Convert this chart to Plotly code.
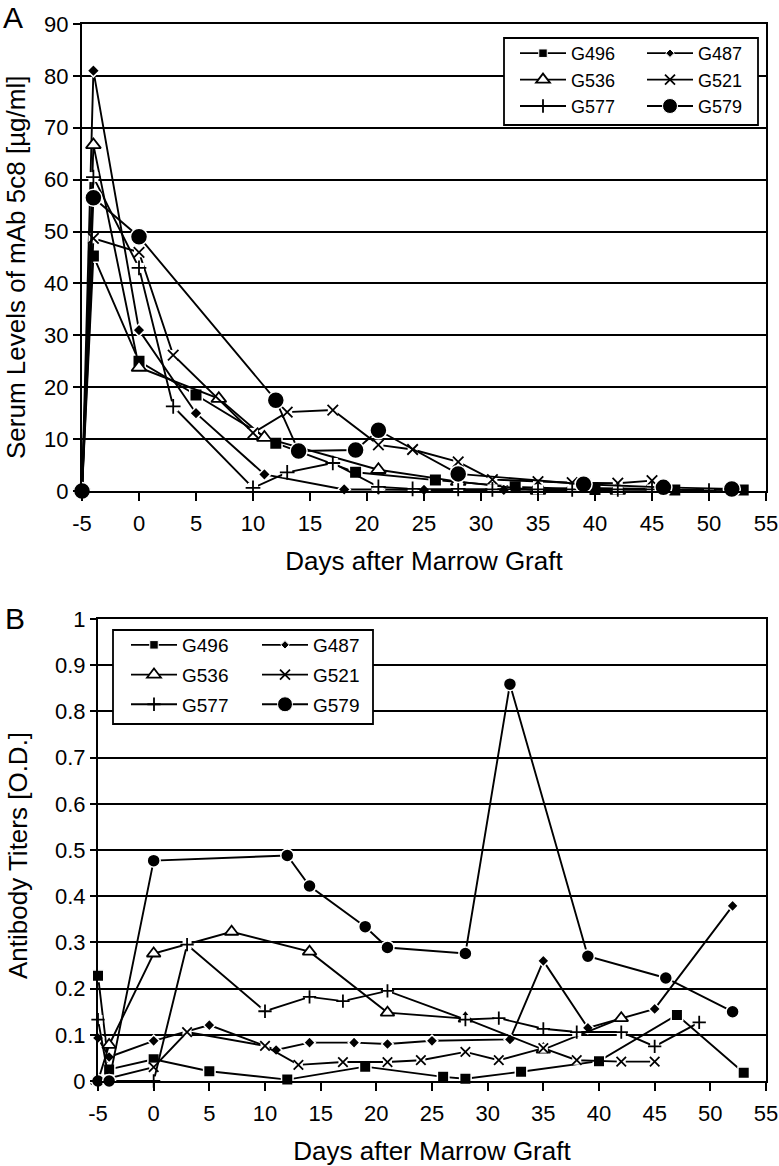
import plotly.graph_objects as go

# ---------------- Panel A data: serum levels of mAb 5c8 [µg/ml] ----------------
a_g496_days = [-5, -4, 0, 5, 12, 19, 26, 33, 40, 47, 53]
a_g496_vals = [0, 45.3, 25.0, 18.5, 9.2, 3.6, 2.1, 0.8, 0.3, 0.2, 0.2]
a_g487_days = [-5, -4, 0, 5, 11, 18, 21, 25, 32, 35, 39, 45]
a_g487_vals = [0, 81.0, 31.0, 15.0, 3.2, 0.3, 0.3, 0.2, 0.2, 0.3, 0.6, 0.4]
a_g536_days = [-5, -4, 0, 7, 11, 21, 28, 35, 42]
a_g536_vals = [0, 66.7, 23.8, 17.8, 10.3, 4.1, 1.8, 0.1, 0.1]
a_g521_days = [-5, -4, 0, 3, 10, 13, 17, 21, 24, 28, 31, 35, 38, 42, 45]
a_g521_vals = [0, 48.7, 46.0, 26.2, 11.2, 15.2, 15.6, 8.9, 8.0, 5.6, 2.2, 1.8, 1.6, 1.5, 2.0]
a_g577_days = [-5, -4, 0, 3, 10, 13, 17, 21, 24, 28, 31, 35, 38, 42, 45, 50]
a_g577_vals = [0, 60.5, 43.0, 16.3, 0.6, 3.6, 5.4, 0.8, 0.4, 0.4, 0.3, 0.3, 0.3, 0.3, 0.3, 0.1]
a_g579_days = [-5, -4, 0, 12, 14, 19, 21, 28, 39, 46, 52]
a_g579_vals = [0, 56.5, 49.0, 17.5, 7.7, 7.9, 11.7, 3.3, 1.3, 0.7, 0.4]

# ---------------- Panel B data: antibody titers [O.D.] ----------------
b_g496_days = [-5, -4, 0, 5, 12, 19, 26, 28, 33, 40, 47, 53]
b_g496_vals = [0.228, 0.025, 0.047, 0.021, 0.003, 0.031, 0.009, 0.005, 0.020, 0.043, 0.143, 0.018]
b_g487_days = [-5, -4, 0, 5, 11, 14, 18, 21, 25, 32, 35, 39, 45, 52]
b_g487_vals = [0.093, 0.052, 0.087, 0.121, 0.067, 0.083, 0.083, 0.080, 0.087, 0.090, 0.260, 0.115, 0.156, 0.379]
b_g536_days = [-5, -4, 0, 7, 14, 21, 28, 35, 42]
b_g536_vals = [0.0, 0.078, 0.276, 0.323, 0.280, 0.148, 0.135, 0.068, 0.136]
b_g521_days = [-5, 0, 3, 10, 13, 17, 21, 24, 28, 31, 35, 38, 42, 45]
b_g521_vals = [0.0, 0.030, 0.106, 0.076, 0.035, 0.041, 0.041, 0.045, 0.063, 0.045, 0.071, 0.045, 0.042, 0.042]
b_g577_days = [-5, -4, 0, 3, 10, 14, 17, 21, 28, 31, 35, 38, 42, 45, 49]
b_g577_vals = [0.133, 0.0, 0.0, 0.295, 0.151, 0.182, 0.173, 0.195, 0.133, 0.136, 0.113, 0.106, 0.106, 0.075, 0.127]
b_g579_days = [-5, -4, 0, 12, 14, 19, 21, 28, 32, 39, 46, 52]
b_g579_vals = [0.0, 0.0, 0.477, 0.488, 0.422, 0.334, 0.289, 0.276, 0.859, 0.270, 0.223, 0.150]

series_names = ["G496", "G487", "G536", "G521", "G577", "G579"]
x_ticks = [-5, 0, 5, 10, 15, 20, 25, 30, 35, 40, 45, 50, 55]
x_tick_text = ["-5", "0", "5", "10", "15", "20", "25", "30", "35", "40", "45", "50", "55"]
a_y_ticks = [0, 10, 20, 30, 40, 50, 60, 70, 80, 90]
b_y_ticks = [0, 0.1, 0.2, 0.3, 0.4, 0.5, 0.6, 0.7, 0.8, 0.9, 1]
b_y_tick_text = ["0", "0.1", "0.2", "0.3", "0.4", "0.5", "0.6", "0.7", "0.8", "0.9", "1"]

panel_a = {
    "G496": (a_g496_days, a_g496_vals), "G487": (a_g487_days, a_g487_vals),
    "G536": (a_g536_days, a_g536_vals), "G521": (a_g521_days, a_g521_vals),
    "G577": (a_g577_days, a_g577_vals), "G579": (a_g579_days, a_g579_vals),
}
panel_b = {
    "G496": (b_g496_days, b_g496_vals), "G487": (b_g487_days, b_g487_vals),
    "G536": (b_g536_days, b_g536_vals), "G521": (b_g521_days, b_g521_vals),
    "G577": (b_g577_days, b_g577_vals), "G579": (b_g579_days, b_g579_vals),
}

W, H = 779, 1166
FONT = "Liberation Sans, Arial, sans-serif"
BLACK = "#000000"

def px_x(p):
    return p / W

def px_y(p):
    return 1 - p / H

styles = {
    "G496": dict(symbol="square", a=12.5, b=11.5, leg=8.5, kind="filled"),
    "G487": dict(symbol="diamond", a=9.5, b=9, leg=6.5, kind="filled"),
    "G536": dict(symbol="triangle-up", a=13, b=12, leg=12, kind="open"),
    "G521": dict(symbol="x-thin", a=10.5, b=9.5, leg=10, kind="thin"),
    "G577": dict(symbol="cross-thin", a=10.5, b=9.5, leg=9.5, kind="thin"),
    "G579": dict(symbol="circle", a=17, b=13, leg=15, kind="filled"),
}

fig = go.Figure()

def add_series(name, days, vals, xa, ya, size):
    st = styles[name]
    fig.add_trace(go.Scatter(x=days, y=vals, mode="lines", xaxis=xa, yaxis=ya,
                             line=dict(color=BLACK, width=1.9), showlegend=False,
                             hoverinfo="skip", cliponaxis=False))
    if st["kind"] == "thin":
        fig.add_trace(go.Scatter(x=days, y=vals, mode="markers", xaxis=xa, yaxis=ya,
                                 marker=dict(symbol="square", size=size * 0.95, color="white",
                                             line=dict(width=0)),
                                 showlegend=False, hoverinfo="skip", cliponaxis=False))
        marker = dict(symbol=st["symbol"], size=size, color=BLACK,
                      line=dict(color=BLACK, width=1.8))
    elif st["kind"] == "open":
        marker = dict(symbol=st["symbol"], size=size, color="white",
                      line=dict(color=BLACK, width=1.8))
    else:
        marker = dict(symbol=st["symbol"], size=size, color=BLACK,
                      line=dict(color="white", width=1.5))
    fig.add_trace(go.Scatter(x=days, y=vals, mode="markers", xaxis=xa, yaxis=ya,
                             marker=marker, showlegend=False, name=name,
                             cliponaxis=False))

for nm in series_names:
    d, v = panel_a[nm]
    add_series(nm, d, v, "x", "y", styles[nm]["a"])
for nm in series_names:
    d, v = panel_b[nm]
    add_series(nm, d, v, "x2", "y2", styles[nm]["b"])

legend_cols = {"G496": 0, "G536": 0, "G577": 0, "G487": 1, "G521": 1, "G579": 1}
for panel, (lc1, lc2, xa, ya) in {"A": ("legend", "legend2", "x", "y"),
                                  "B": ("legend3", "legend4", "x2", "y2")}.items():
    for nm in ["G496", "G536", "G577", "G487", "G521", "G579"]:
        st = styles[nm]
        if st["kind"] == "open":
            mk = dict(symbol=st["symbol"], size=st["leg"], color="white",
                      line=dict(color=BLACK, width=1.8))
        elif st["kind"] == "thin":
            mk = dict(symbol=st["symbol"], size=st["leg"], color=BLACK,
                      line=dict(color=BLACK, width=1.8))
        else:
            mk = dict(symbol=st["symbol"], size=st["leg"], color=BLACK,
                      line=dict(color="white", width=1))
        fig.add_trace(go.Scatter(x=[None], y=[None], mode="lines+markers", name=nm,
                                 xaxis=xa, yaxis=ya, line=dict(color=BLACK, width=1.8),
                                 marker=mk, legend=lc1 if legend_cols[nm] == 0 else lc2,
                                 legendgroup=panel + nm, showlegend=True))

axis_common = dict(showline=True, linecolor=BLACK, linewidth=2, mirror=True,
                   ticks="outside", tickcolor=BLACK, tickwidth=2, zeroline=False,
                   automargin=False,
                   tickfont=dict(family=FONT, size=22, color=BLACK))

fig.update_layout(
    width=W, height=H, margin=dict(l=0, r=0, t=0, b=0, autoexpand=False),
    paper_bgcolor="white", plot_bgcolor="white",
    font=dict(family=FONT, color=BLACK),
    xaxis=dict(domain=[px_x(82), px_x(766)], anchor="y", range=[-5, 55],
               tickmode="array", tickvals=x_ticks, ticktext=x_tick_text, ticklen=8,
               ticklabelstandoff=4, showgrid=False,
               title=dict(text="Days after Marrow Graft", font=dict(family=FONT, size=26),
                          standoff=16),
               **axis_common),
    yaxis=dict(domain=[px_y(491), px_y(24)], anchor="x", range=[0, 90],
               tickmode="array", tickvals=a_y_ticks, ticklen=7,
               showgrid=True, gridcolor=BLACK, gridwidth=2, **axis_common),
    xaxis2=dict(domain=[px_x(98), px_x(766)], anchor="y2", range=[-5, 55],
                tickmode="array", tickvals=x_ticks, ticktext=x_tick_text, ticklen=8,
                ticklabelstandoff=4, showgrid=False,
                title=dict(text="Days after Marrow Graft", font=dict(family=FONT, size=26),
                           standoff=16),
                **axis_common),
    yaxis2=dict(domain=[px_y(1081), px_y(619)], anchor="x2", range=[0, 1],
                tickmode="array", tickvals=b_y_ticks, ticktext=b_y_tick_text,
                ticklen=6, showgrid=True, gridcolor=BLACK, gridwidth=2, **axis_common),
)

leg_common = dict(xanchor="left", yanchor="top", bgcolor="rgba(0,0,0,0)", borderwidth=0,
                  traceorder="grouped", itemwidth=46, itemsizing="trace")
fig.update_layout(
    legend=dict(x=px_x(515), y=px_y(35), tracegroupgap=0,
                font=dict(family=FONT, size=18, color=BLACK), **leg_common),
    legend2=dict(x=px_x(642), y=px_y(35), tracegroupgap=0,
                 font=dict(family=FONT, size=18, color=BLACK), **leg_common),
    legend3=dict(x=px_x(126), y=px_y(626), tracegroupgap=2,
                 font=dict(family=FONT, size=19, color=BLACK), **leg_common),
    legend4=dict(x=px_x(257), y=px_y(626), tracegroupgap=2,
                 font=dict(family=FONT, size=19, color=BLACK), **leg_common),
)

fig.add_shape(type="rect", xref="paper", yref="paper", x0=px_x(504), x1=px_x(758),
              y0=px_y(125), y1=px_y(38), line=dict(color=BLACK, width=1.8),
              fillcolor="white", layer="above")
fig.add_shape(type="rect", xref="paper", yref="paper", x0=px_x(113), x1=px_x(373),
              y0=px_y(724), y1=px_y(630), line=dict(color=BLACK, width=1.8),
              fillcolor="white", layer="above")

fig.add_annotation(text="Serum Levels of mAb 5c8 [µg/ml]", xref="paper", yref="paper",
                   x=px_x(16), y=px_y(268), textangle=-90, showarrow=False,
                   font=dict(family=FONT, size=26, color=BLACK), xanchor="center", yanchor="middle")
fig.add_annotation(text="Antibody Titers [O.D.]", xref="paper", yref="paper",
                   x=px_x(18), y=px_y(856), textangle=-90, showarrow=False,
                   font=dict(family=FONT, size=26, color=BLACK), xanchor="center", yanchor="middle")
fig.add_annotation(text="A", xref="paper", yref="paper", x=px_x(13), y=px_y(0),
                   showarrow=False, font=dict(family=FONT, size=30, color=BLACK),
                   xanchor="center", yanchor="top", borderpad=0)
fig.add_annotation(text="B", xref="paper", yref="paper", x=px_x(15), y=px_y(618),
                   showarrow=False, font=dict(family=FONT, size=30, color=BLACK),
                   xanchor="center", yanchor="middle")

fig.write_html("out.html", config={"displayModeBar": False},
               post_script="document.body.style.margin='0';document.body.style.overflow='hidden';")
